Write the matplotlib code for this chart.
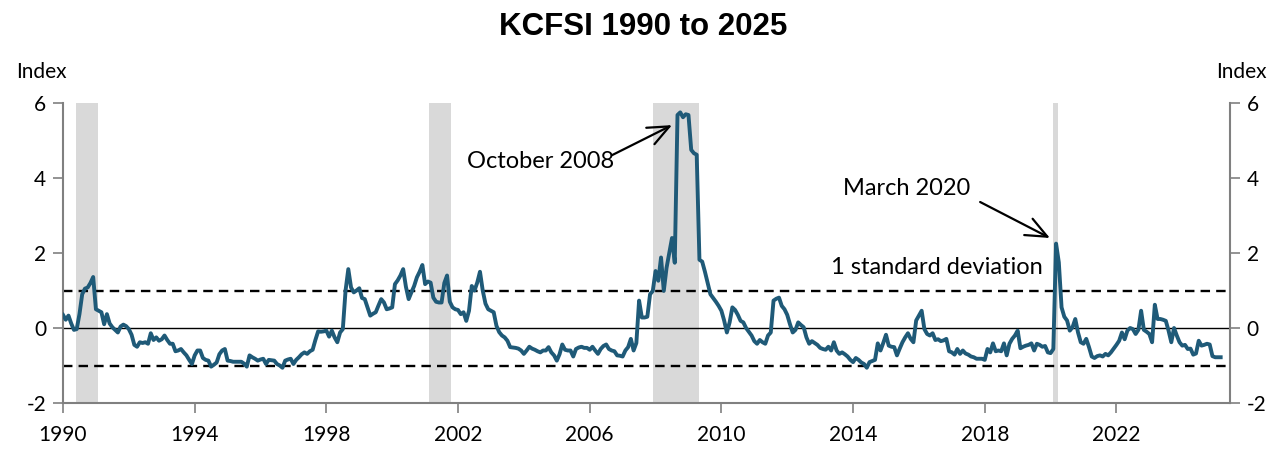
import numpy as np
import matplotlib
matplotlib.use("Agg")
import matplotlib.pyplot as plt

# monthly KCFSI readings, Jan 1990 onwards
kcfsi_1990s = [
    0.35, 0.22, 0.33, 0.12, -0.05, -0.03, 0.37, 0.9, 1.05, 1.08, 1.2, 1.36,
    0.5, 0.46, 0.42, 0.1, 0.37, 0.12, 0.02, -0.05, -0.12, 0.04, 0.09, 0.05,
    -0.03, -0.18, -0.45, -0.5, -0.38, -0.4, -0.38, -0.42, -0.14, -0.32, -0.25, -0.34,
    -0.3, -0.2, -0.32, -0.42, -0.42, -0.62, -0.6, -0.56, -0.65, -0.73, -0.85, -0.96,
    -0.73, -0.6, -0.6, -0.8, -0.85, -0.87, -1.03, -0.98, -0.92, -0.7, -0.6, -0.56,
    -0.87, -0.88, -0.9, -0.9, -0.9, -0.9, -0.95, -1.03, -0.73, -0.78, -0.82, -0.87,
    -0.84, -0.82, -0.96, -0.85, -0.86, -0.87, -0.96, -1.0, -1.06, -0.87, -0.84, -0.82,
    -0.96, -0.85, -0.78, -0.7, -0.65, -0.69, -0.62, -0.58, -0.32, -0.09, -0.1, -0.09,
    -0.07, -0.23, -0.07, -0.25, -0.38, -0.12, -0.03, 1.0, 1.57, 1.08, 0.95, 1.0,
    1.06, 0.8, 0.77, 0.55, 0.33, 0.38, 0.42, 0.6, 0.77, 0.68, 0.5, 0.52,
]
kcfsi_2000s = [
    0.55, 1.17, 1.27, 1.4, 1.57, 1.1, 0.77, 0.95, 1.12, 1.35, 1.5, 1.68,
    1.17, 1.24, 1.21, 0.81, 0.7, 0.68, 0.68, 1.2, 1.4, 0.7, 0.55, 0.5,
    0.48, 0.37, 0.42, 0.19, 0.46, 1.12, 1.0, 1.21, 1.5, 1.0, 0.65, 0.5,
    0.46, 0.42, 0.06, -0.11, -0.2, -0.25, -0.34, -0.51, -0.52, -0.53, -0.55, -0.6,
    -0.69, -0.6, -0.5, -0.55, -0.58, -0.62, -0.65, -0.6, -0.6, -0.51, -0.65, -0.73,
    -0.87, -0.7, -0.44, -0.58, -0.6, -0.6, -0.76, -0.56, -0.52, -0.5, -0.53, -0.53,
    -0.58, -0.5, -0.6, -0.69, -0.56, -0.48, -0.44, -0.56, -0.6, -0.62, -0.73, -0.74,
    -0.76, -0.6, -0.51, -0.29, -0.6, -0.4, 0.73, 0.28, 0.28, 0.3, 0.9, 0.99,
    1.52, 1.26, 1.88, 0.99, 1.6, 2.0, 2.4, 1.74, 5.68, 5.75, 5.62, 5.7,
    5.68, 4.75, 4.66, 4.62, 1.82, 1.77, 1.5, 1.2, 0.9, 0.8, 0.7, 0.59,
]
kcfsi_2010s = [
    0.46, 0.2, -0.12, 0.15, 0.55, 0.48, 0.35, 0.19, 0.15, 0.0, -0.1, -0.2,
    -0.35, -0.42, -0.32, -0.38, -0.42, -0.2, -0.12, 0.73, 0.78, 0.81, 0.59, 0.5,
    0.35, 0.1, -0.12, -0.05, 0.15, 0.08, 0.02, -0.25, -0.42, -0.35, -0.4, -0.45,
    -0.53, -0.56, -0.58, -0.5, -0.6, -0.38, -0.6, -0.69, -0.65, -0.7, -0.76, -0.85,
    -0.91, -0.8, -0.85, -0.92, -0.96, -1.06, -0.91, -0.88, -0.85, -0.41, -0.6, -0.4,
    -0.18, -0.47, -0.5, -0.51, -0.73, -0.55, -0.38, -0.25, -0.14, -0.29, -0.38, 0.2,
    0.33, 0.46, -0.03, -0.16, -0.2, -0.14, -0.32, -0.3, -0.35, -0.33, -0.29, -0.62,
    -0.65, -0.71, -0.56, -0.69, -0.6, -0.68, -0.71, -0.76, -0.78, -0.82, -0.82, -0.82,
    -0.85, -0.56, -0.65, -0.41, -0.62, -0.6, -0.62, -0.41, -0.73, -0.42, -0.29, -0.2,
    -0.07, -0.54, -0.5, -0.47, -0.45, -0.41, -0.6, -0.42, -0.45, -0.5, -0.48, -0.65,
]
kcfsi_2020s = [
    -0.67, -0.56, 2.25, 1.75, 0.55, 0.3, 0.2, -0.07, 0.02, 0.24, -0.12, -0.38,
    -0.42, -0.29, -0.51, -0.76, -0.8, -0.75, -0.73, -0.76, -0.69, -0.73, -0.65, -0.55,
    -0.45, -0.34, -0.12, -0.3, -0.07, 0.0, -0.03, -0.16, -0.05, 0.46, -0.05, -0.1,
    -0.16, -0.38, 0.62, 0.24, 0.24, 0.22, 0.19, -0.07, -0.38, 0.0, -0.2, -0.38,
    -0.47, -0.45, -0.56, -0.55, -0.71, -0.68, -0.34, -0.47, -0.45, -0.42, -0.44, -0.75,
    -0.78, -0.78, -0.78,
]

# recession shading (fractional years)
rec_start = [1990.39, 2001.12, 2007.92, 2020.06]
rec_end = [1991.06, 2001.79, 2009.32, 2020.23]

std_dev = 1.0
year_ticks = [1990, 1994, 1998, 2002, 2006, 2010, 2014, 2018, 2022]
y_ticks = [-2, 0, 2, 4, 6]

kcfsi = np.array(kcfsi_1990s + kcfsi_2000s + kcfsi_2010s + kcfsi_2020s)
dates = 1990 + np.arange(len(kcfsi)) / 12.0

plt.rcParams['font.family'] = ['Lato', 'DejaVu Sans']
plt.rcParams['axes.unicode_minus'] = False
line_color = '#1f5a78'
grey = '#808080'

fig = plt.figure(figsize=(12.85, 4.49), dpi=100)
ax = fig.add_axes([63 / 1285, 1 - 403 / 449, (1230 - 63) / 1285, 300 / 449])

for s, e in zip(rec_start, rec_end):
    ax.axvspan(s, e, color='#d9d9d9', lw=0, zorder=0)

ax.axhline(0, color='black', lw=1, zorder=1)
ax.axhline(std_dev, color='black', lw=1.7, ls=(0, (4, 2.6)), zorder=1)
ax.axhline(-std_dev, color='black', lw=1.7, ls=(0, (4, 2.6)), zorder=1)

ax.plot(dates, kcfsi, color=line_color, lw=2.8, zorder=3, solid_joinstyle='round')

ax.set_xlim(1990, 2025.45)
ax.set_ylim(-2, 6)
ax.set_xticks(year_ticks)
ax.set_xticklabels([str(y) for y in year_ticks])
ax.set_yticks(y_ticks)
ax.tick_params(axis='both', which='both', direction='out', length=7, width=1.2,
               color=grey, labelsize=15, colors='black')
ax.tick_params(axis='y', right=True, labelright=True, pad=5)
ax.tick_params(axis='x', pad=9)

for side in ['left', 'right', 'bottom']:
    ax.spines[side].set_color(grey)
    ax.spines[side].set_linewidth(1.5)
ax.spines['top'].set_visible(False)

fig.text(41 / 1285, 1 - 72 / 449, 'Index', ha='center', va='center', fontsize=15)
fig.text(1241 / 1285, 1 - 72 / 449, 'Index', ha='center', va='center', fontsize=15)
fig.text(643 / 1285, 1 - 27 / 449, 'KCFSI 1990 to 2025', ha='center', va='center',
         fontsize=22.5, fontweight='bold', family=['Liberation Sans', 'DejaVu Sans'])

arrow = dict(arrowstyle='->,head_length=0.7,head_width=0.3', color='black', lw=1.6,
             mutation_scale=22, shrinkA=0, shrinkB=0)
ax.text(2004.5, 4.45, 'October 2008', ha='center', va='center', fontsize=17)
ax.annotate('', xy=(2008.5, 5.41), xytext=(2006.68, 4.61), arrowprops=arrow)
ax.text(2015.64, 3.73, 'March 2020', ha='center', va='center', fontsize=17)
ax.annotate('', xy=(2019.98, 2.4), xytext=(2017.86, 3.36), arrowprops=arrow)
ax.text(2016.55, 1.6, '1 standard deviation', ha='center', va='center', fontsize=17)

fig.savefig('out.png', dpi=100)
